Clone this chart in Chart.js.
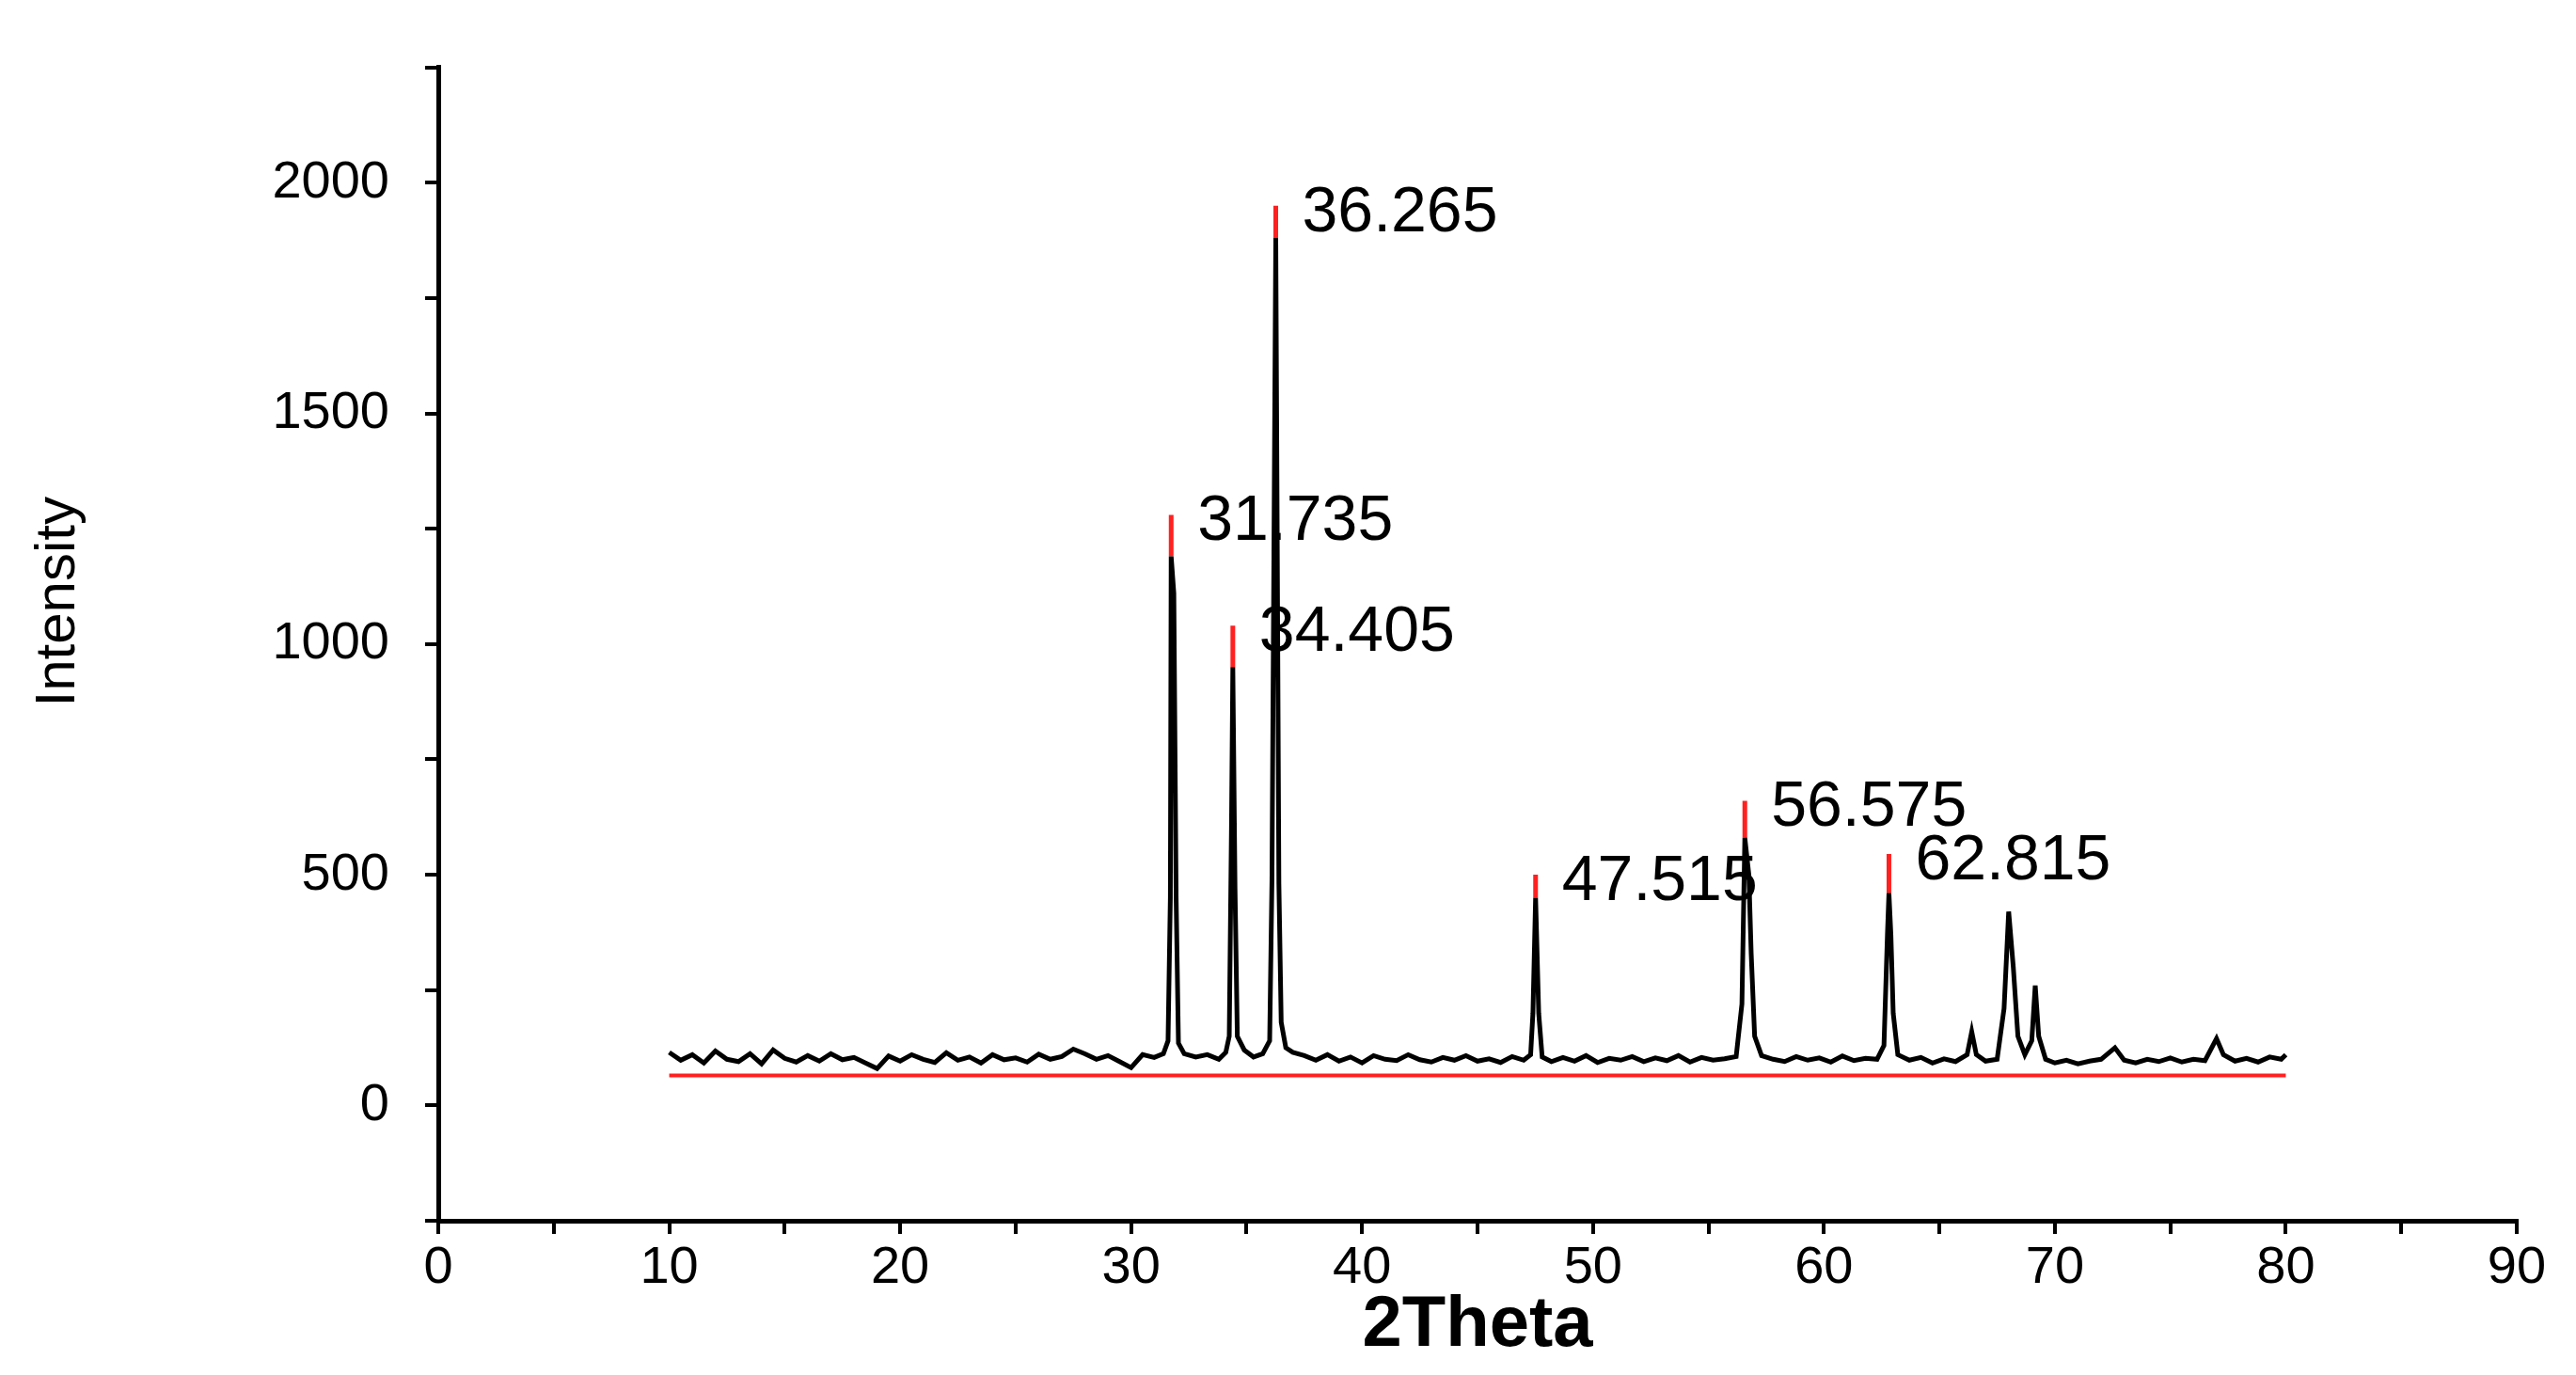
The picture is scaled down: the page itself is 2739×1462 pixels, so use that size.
<!DOCTYPE html>
<html>
<head>
<meta charset="utf-8">
<script src="https://cdn.jsdelivr.net/npm/chart.js@4"></script>
<style>
  html, body { margin: 0; padding: 0; background: #fff; }
  #wrap { position: relative; width: 2739px; height: 1462px; }
</style>
</head>
<body>
<div id="wrap"><canvas id="xrd"></canvas></div>
<script>
// measured pattern (2theta, intensity)
const twoTheta = [
  10, 10.5, 11, 11.5, 12, 12.5, 13, 13.5, 14, 14.5, 15, 15.5, 16, 16.5, 17, 17.5, 18, 18.5, 19, 19.5,
  20, 20.5, 21, 21.5, 22, 22.5, 23, 23.5, 24, 24.5, 25, 25.5, 26, 26.5, 27, 27.5, 28, 28.5, 29, 29.5,
  30, 30.5, 31, 31.4, 31.6, 31.7, 31.735, 31.85, 31.95, 32.05, 32.3, 32.8, 33.3, 33.8, 34.1, 34.25, 34.35, 34.405, 34.5, 34.6,
  34.9, 35.3, 35.7, 36.0, 36.1, 36.265, 36.4, 36.5, 36.7, 37.0, 37.5, 38, 38.5, 39, 39.5, 40, 40.5, 41, 41.5, 42,
  42.5, 43, 43.5, 44, 44.5, 45, 45.5, 46, 46.5, 47, 47.3, 47.4, 47.515, 47.65, 47.8, 48.2, 48.7, 49.2, 49.7, 50.2,
  50.7, 51.2, 51.7, 52.2, 52.7, 53.2, 53.7, 54.2, 54.7, 55.2, 55.7, 56.2, 56.45, 56.575, 56.75, 56.85, 57.0, 57.3, 57.8, 58.3,
  58.8, 59.3, 59.8, 60.3, 60.8, 61.3, 61.8, 62.3, 62.6, 62.75, 62.815, 62.9, 63.0, 63.2, 63.7, 64.2, 64.7, 65.2, 65.7, 66.2,
  66.4, 66.6, 67, 67.5, 67.8, 68.0, 68.2, 68.4, 68.7, 69.0, 69.15, 69.3, 69.6, 70, 70.5, 71, 71.5, 72, 72.6, 73,
  73.5, 74, 74.5, 75, 75.5, 76, 76.5, 77, 77.3, 77.8, 78.3, 78.8, 79.3, 79.8, 80
];
const intensity = [
  115, 98, 110, 92, 118, 100, 95, 112, 90, 120, 102, 94, 108, 96, 112, 99, 104, 92, 80, 107,
  96, 110, 100, 93, 114, 98, 105, 92, 110, 99, 103, 94, 111, 100, 106, 122, 112, 100, 108, 95,
  82, 110, 104, 112, 140, 450, 1190, 1110, 450, 135, 112, 105, 110, 100, 115, 150, 620, 950, 470, 150,
  120, 105, 112, 140, 490, 1880, 480, 180, 125, 115, 108, 98, 110, 96, 105, 92, 108, 100, 97, 110,
  99, 94, 104, 98, 108, 96, 101, 93, 106, 98, 110, 200, 450, 200, 105, 95, 104, 96, 108, 93,
  102, 98, 106, 95, 103, 97, 108, 94, 104, 98, 101, 106, 220, 580, 500, 330, 150, 108, 100, 95,
  106, 98, 103, 94, 107, 97, 102, 100, 130, 370, 460, 370, 200, 110, 98, 104, 92, 101, 95, 110,
  160, 110, 96, 100, 210, 420, 300, 150, 110, 140, 260, 150, 100, 92, 98, 90, 96, 100, 125, 98,
  92, 100, 95, 103, 94, 100, 97, 145, 110, 96, 102, 94, 105, 100, 110
];
// labelled peaks: position, top of red marker
const peakPos = [31.735, 34.405, 36.265, 47.515, 56.575, 62.815];
const peakMark = [1280, 1040, 1950, 500, 660, 545];
const peakBase = [1190, 950, 1880, 450, 580, 460];
const peakText = ['31.735', '34.405', '36.265', '47.515', '56.575', '62.815'];
const refLine = [[10, 65], [80, 65]];

const xMin = 0, xMax = 90, yMin = -250, yMax = 2250;

const datasets = [
  {
    data: twoTheta.map((x, i) => ({ x, y: intensity[i] })),
    borderColor: '#000', borderWidth: 5, pointRadius: 0, tension: 0,
  },
  {
    data: refLine.map(([x, y]) => ({ x, y })),
    borderColor: '#ff2020', borderWidth: 4, pointRadius: 0,
  },
];
peakPos.forEach((p, i) => {
  datasets.push({
    data: [{ x: p, y: peakBase[i] }, { x: p, y: peakMark[i] }],
    borderColor: '#ff2020', borderWidth: 5, pointRadius: 0,
  });
});

const tickFont = { family: '"Liberation Sans", Arial', size: 56 };

const textPlugin = {
  id: 'texts',
  afterDraw(chart) {
    const { ctx, scales: { x, y } } = chart;
    ctx.save();
    ctx.fillStyle = '#000';
    ctx.font = '68px "Liberation Sans", Arial';
    ctx.textBaseline = 'middle';
    peakPos.forEach((p, i) => {
      ctx.fillText(peakText[i], x.getPixelForValue(p) + 28, y.getPixelForValue(peakMark[i]) + 8);
    });
    ctx.font = 'bold 76px "Liberation Sans", Arial';
    ctx.textAlign = 'center';
    ctx.fillText('2Theta', (x.left + x.right) / 2, 1410);
    ctx.translate(62, (y.top + y.bottom) / 2 - 45);
    ctx.rotate(-Math.PI / 2);
    ctx.font = '60px "Liberation Sans Narrow", "Liberation Sans", Arial';
    ctx.fillText('Intensity', 0, 0);
    ctx.restore();
  },
};

new Chart(document.getElementById('xrd'), {
  type: 'line',
  data: { datasets },
  plugins: [textPlugin],
  options: {
    responsive: true,
    maintainAspectRatio: false,
    animation: false,
    layout: { padding: { top: 38, right: 63, left: 0, bottom: 0 } },
    plugins: { legend: { display: false }, tooltip: { enabled: false } },
    scales: {
      x: {
        type: 'linear', min: xMin, max: xMax,
        afterFit: (s) => { s.height = 164; },
        border: { display: true, color: '#000', width: 5 },
        grid: { drawOnChartArea: false, drawTicks: true, tickLength: 14, color: '#000', lineWidth: 4 },
        ticks: {
          stepSize: 5, color: '#000', font: tickFont, maxRotation: 0, autoSkip: false,
          callback: (v) => (v % 10 === 0 ? v : ''),
        },
      },
      y: {
        min: yMin, max: yMax,
        afterFit: (s) => { s.width = 466; },
        border: { display: true, color: '#000', width: 5 },
        grid: { drawOnChartArea: false, drawTicks: true, tickLength: 14, color: '#000', lineWidth: 4 },
        ticks: {
          stepSize: 250, color: '#000', font: tickFont, padding: 38, autoSkip: false,
          callback: (v) => (v % 500 === 0 && v >= 0 && v <= 2000 ? v : ''),
        },
      },
    },
  },
});
</script>
</body>
</html>
